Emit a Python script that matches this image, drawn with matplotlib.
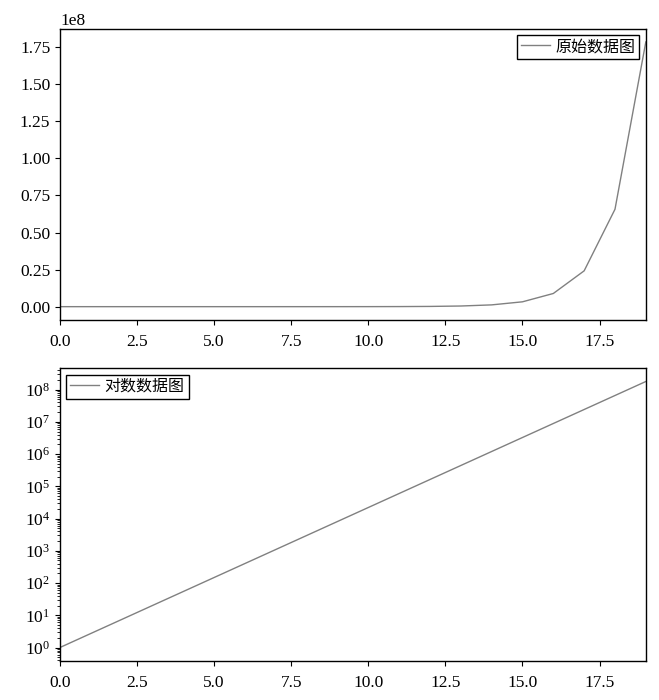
import matplotlib
matplotlib.use("Agg")
import matplotlib.pyplot as plt
from matplotlib.ticker import LogLocator, NullFormatter

plt.rcParams['font.family'] = 'Liberation Serif'
plt.rcParams['mathtext.fontset'] = 'stix'
plt.rcParams['font.size'] = 12.5
plt.rcParams['xtick.major.pad'] = 7

# values (x = 0..19)
x = list(range(20))
y = [1.0, 2.72, 7.39, 20.1, 54.6, 148.4, 403.4, 1096.6, 2981.0, 8103.1,
     22026.5, 59874.1, 162754.8, 442413.4, 1202604.3, 3269017.4,
     8886110.5, 24154952.8, 65659969.1, 178482301.0]

labels = ['原始数据图', '对数数据图']
line_color = '#808080'
legend_font = {'family': ['Liberation Serif', 'Noto Sans CJK SC'], 'size': 11.5}
legend_kw = dict(fancybox=False, edgecolor='black', framealpha=1,
                 borderaxespad=0.4, borderpad=0.25, handlelength=1.8,
                 handletextpad=0.35, prop=legend_font)

fig = plt.figure(figsize=(6.59, 7.0), dpi=100)
ax1 = fig.add_axes([0.091, 0.543, 0.889, 0.416])
ax2 = fig.add_axes([0.091, 0.056, 0.889, 0.418])

ax1.plot(x, y, color=line_color, lw=1, label=labels[0])
ax1.set_xlim(0, 19)
ax1.legend(loc='upper right', **legend_kw)

ax2.plot(x, y, color=line_color, lw=1, label=labels[1])
ax2.set_yscale('log')
ax2.set_xlim(0, 19)
ax2.yaxis.set_major_locator(LogLocator(base=10, numticks=20))
ax2.yaxis.set_minor_locator(LogLocator(base=10, subs=range(2, 10), numticks=20))
ax2.yaxis.set_minor_formatter(NullFormatter())
ax2.legend(loc='upper left', **legend_kw)

for ax in (ax1, ax2):
    for s in ax.spines.values():
        s.set_linewidth(1)

fig.savefig('out.png', dpi=100)
